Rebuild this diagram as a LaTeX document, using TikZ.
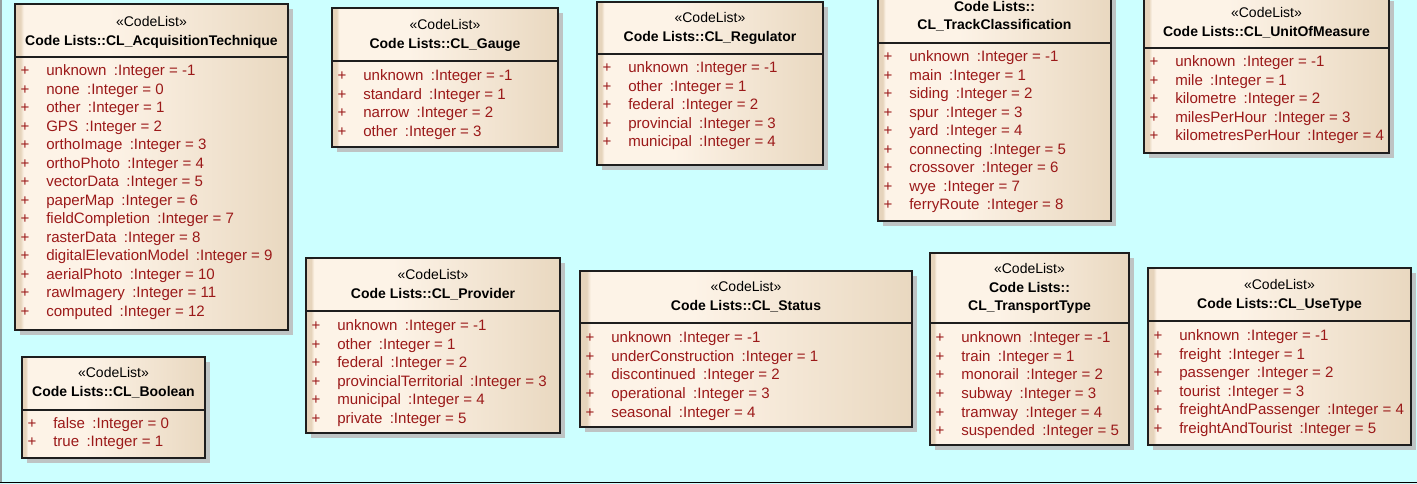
\documentclass[tikz,border=0pt]{standalone}
\usepackage{fontspec}
\setmainfont{Liberation Sans}
\usetikzlibrary{fit}
\definecolor{bg}{RGB}{204,255,255}
\definecolor{stripc}{RGB}{230,212,188}
\definecolor{creamc}{RGB}{253,243,231}
\definecolor{tanc}{RGB}{233,216,192}
\definecolor{attrred}{RGB}{155,25,25}
\definecolor{shadowgray}{RGB}{190,196,196}
\definecolor{framegray}{RGB}{150,160,160}
\pgfdeclarehorizontalshading{boxshade}{100bp}{color(0bp)=(stripc); color(25bp)=(stripc); color(26bp)=(stripc); color(26.6bp)=(creamc); color(42bp)=(creamc); color(75bp)=(tanc); color(100bp)=(tanc)}
\newcommand\txtfont{\fontsize{10.5}{12}\selectfont}
\newcommand\attrfont{\fontsize{11.3}{12}\selectfont}
\tikzset{
  boxline/.style={draw={rgb,255:red,30;green,30;blue,30}, line width=0.95pt},
  boxnode/.style={boxline, shade, shading=boxshade, inner sep=0pt},
  stereo/.style={inner sep=0pt, anchor=base, font=\txtfont},
  titletext/.style={inner sep=0pt, anchor=base, font=\txtfont\bfseries},
  plussign/.style={inner sep=0pt, anchor=base, text=attrred, font=\attrfont},
  attr/.style={inner sep=0pt, anchor=base west, text=attrred, font=\attrfont},
}
% #1 id, #2 x1, #3 y1, #4 x2, #5 y2, #6 separator y
\newcommand\cbox[6]{%
  \fill[shadowgray] (#2+5,#3+5) rectangle (#4+5,#5+5);
  \node[boxnode, fit={(#2,#3) (#4,#5)}] (#1) {};
  \draw[boxline] (#1.west |- 0,#6) -- (#1.east |- 0,#6);
}
% #1 id, #2 x left, #3 first row y, #4 list name/value
\newcommand\crows[4]{%
  \foreach \nm/\vl [count=\i from 0] in {#4} {
    \node[plussign] (#1p\i) at (#2+10, #3+\i*18.5+5) {+};
    \node[attr] (#1a\i) at (#2+31, #3+\i*18.5+5) {\nm\hspace{5.5pt}:Integer = \vl};
  }
}
\begin{document}
\begin{tikzpicture}[x=0.75pt, y=-0.75pt]
\useasboundingbox (0,0) rectangle (1417,484);
\clip (0,0) rectangle (1417,484);
\fill[bg] (0,0) rectangle (1417,484);
\draw[framegray, line width=1.2pt] (0.8,-5) -- (0.8,482.5);
\draw[black, line width=1.2pt] (-5,482.5) -- (1422,482.5);

% CL_AcquisitionTechnique
\cbox{b1}{15}{4}{288}{330}{57}
\node[stereo] (b1s) at (151.5,27) {«CodeList»};
\node[titletext] (b1t) at (151.5,46) {Code Lists::CL\_AcquisitionTechnique};
\crows{b1}{15}{71}{unknown/-1, none/0, other/1, GPS/2, orthoImage/3, orthoPhoto/4, vectorData/5, paperMap/6, fieldCompletion/7, rasterData/8, digitalElevationModel/9, aerialPhoto/10, rawImagery/11, computed/12}

% CL_Boolean
\cbox{b10}{22}{357}{205}{458}{410}
\node[stereo] (b10s) at (113.5,378) {«CodeList»};
\node[titletext] (b10t) at (113.5,397) {Code Lists::CL\_Boolean};
\crows{b10}{22}{423}{false/0, true/1}

% CL_Gauge
\cbox{b2}{332}{8}{558}{147}{61}
\node[stereo] (b2s) at (445,30) {«CodeList»};
\node[titletext] (b2t) at (445,49) {Code Lists::CL\_Gauge};
\crows{b2}{332}{76}{unknown/-1, standard/1, narrow/2, other/3}

% CL_Regulator
\cbox{b3}{597}{2}{823}{165}{54}
\node[stereo] (b3s) at (710,23) {«CodeList»};
\node[titletext] (b3t) at (710,42) {Code Lists::CL\_Regulator};
\crows{b3}{597}{68}{unknown/-1, other/1, federal/2, provincial/3, municipal/4}

% CL_TrackClassification
\cbox{b4}{878}{-29}{1111}{221}{43}
\node[titletext] (b4t1) at (994.5,12) {Code Lists::};
\node[titletext] (b4t2) at (994.5,30) {CL\_TrackClassification};
\crows{b4}{878}{57}{unknown/-1, main/1, siding/2, spur/3, yard/4, connecting/5, crossover/6, wye/7, ferryRoute/8}

% CL_UnitOfMeasure
\cbox{b5}{1144}{-4}{1389}{153}{48}
\node[stereo] (b5s) at (1266.5,18) {«CodeList»};
\node[titletext] (b5t) at (1266.5,37) {Code Lists::CL\_UnitOfMeasure};
\crows{b5}{1144}{62}{unknown/-1, mile/1, kilometre/2, milesPerHour/3, kilometresPerHour/4}

% CL_Provider
\cbox{b6}{306}{258}{560}{433}{311}
\node[stereo] (b6s) at (433,280) {«CodeList»};
\node[titletext] (b6t) at (433,299) {Code Lists::CL\_Provider};
\crows{b6}{306}{326}{unknown/-1, other/1, federal/2, provincialTerritorial/3, municipal/4, private/5}

% CL_Status
\cbox{b7}{580}{271}{912}{427}{323}
\node[stereo] (b7s) at (746,292) {«CodeList»};
\node[titletext] (b7t) at (746,311) {Code Lists::CL\_Status};
\crows{b7}{580}{338}{unknown/-1, underConstruction/1, discontinued/2, operational/3, seasonal/4}

% CL_TransportType
\cbox{b8}{930}{253}{1129}{445}{323}
\node[stereo] (b8s) at (1029.5,274) {«CodeList»};
\node[titletext] (b8t1) at (1029.5,293) {Code Lists::};
\node[titletext] (b8t2) at (1029.5,311) {CL\_TransportType};
\crows{b8}{930}{338}{unknown/-1, train/1, monorail/2, subway/3, tramway/4, suspended/5}

% CL_UseType
\cbox{b9}{1148}{268}{1411}{445}{321}
\node[stereo] (b9s) at (1279.5,290) {«CodeList»};
\node[titletext] (b9t) at (1279.5,309) {Code Lists::CL\_UseType};
\crows{b9}{1148}{336}{unknown/-1, freight/1, passenger/2, tourist/3, freightAndPassenger/4, freightAndTourist/5}
\end{tikzpicture}
\end{document}
